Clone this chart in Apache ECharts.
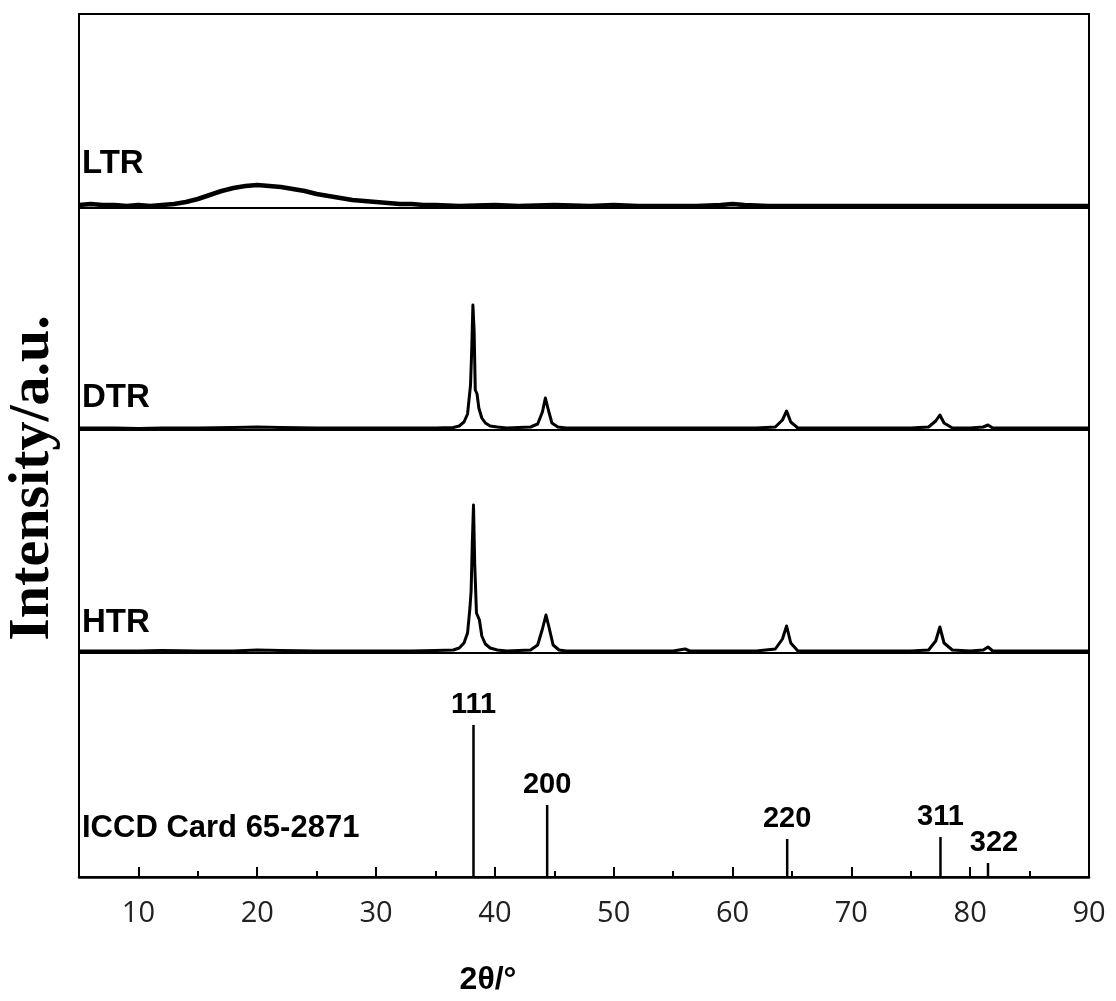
<!DOCTYPE html>
<html>
<head>
<meta charset="utf-8">
<script src="https://cdn.jsdelivr.net/npm/echarts@6/dist/echarts.min.js"></script>
<style>
html,body{margin:0;padding:0;background:#fff;}
#chart{width:1116px;height:1001px;}
</style>
</head>
<body>
<div id="chart"></div>
<script>
// ---- data (2θ in degrees, intensity in arbitrary units) ----
const xMin = 5, xMax = 90;
const majorTicks = [10, 20, 30, 40, 50, 60, 70, 80, 90];
const minorTicks = [15, 25, 35, 45, 55, 65, 75, 85];

const ltrX = [5, 6, 7, 8, 9, 10, 11, 12, 13, 14, 15, 16, 17, 18, 19, 20, 21, 22, 23, 24, 25, 26, 27, 28, 29, 30, 31, 32, 33, 34, 35, 37, 40, 42, 45, 48, 50, 52, 55, 57, 59, 60, 61, 63, 66, 70, 75, 80, 85, 90];
const ltrY = [3, 4, 3, 3, 2, 3, 2, 3, 4, 6, 9, 13, 17, 20, 22, 23, 22, 21, 19, 17, 14, 12, 10, 8, 7, 6, 5, 4, 4, 3, 3, 2, 3, 2, 3, 2, 3, 2, 2, 2, 3, 4, 3, 2, 2, 2, 2, 2, 2, 2];

const dtrX = [5, 8, 10, 12, 15, 18, 20, 22, 25, 28, 30, 33, 35, 36.5, 37.0, 37.4, 37.7, 37.95, 38.05, 38.15, 38.25, 38.35, 38.5, 38.65, 38.9, 39.2, 39.6, 40.2, 41, 42, 43, 43.6, 44.0, 44.25, 44.5, 44.8, 45.3, 46, 48, 50, 52, 55, 58, 60, 62, 63.6, 64.2, 64.55, 64.9, 65.5, 67, 70, 73, 75, 76.5, 77.1, 77.45, 77.8, 78.5, 80, 81.1, 81.5, 81.9, 83, 85, 88, 90];
const dtrY = [2, 2, 1.5, 2, 2, 2.5, 3, 2.5, 2, 2, 2, 2, 2, 2.5, 4, 8, 16, 45, 80, 125, 100, 40, 36, 22, 12, 7, 4, 3, 2, 2.5, 3, 6, 18, 32, 20, 7, 3, 2, 2, 2, 2, 2, 2, 2, 2, 3, 10, 19, 8, 2, 2, 2, 2, 2, 3, 9, 15, 7, 2, 2, 3, 5, 2, 2, 2, 2, 2];

const htrX = [5, 8, 10, 12, 15, 18, 20, 22, 25, 28, 30, 33, 35, 36.5, 37.0, 37.4, 37.7, 37.9, 38.0, 38.1, 38.2, 38.3, 38.45, 38.7, 38.9, 39.2, 39.6, 40.2, 41, 42, 43, 43.6, 44.0, 44.3, 44.55, 44.9, 45.4, 46, 48, 50, 52, 55, 56, 56.4, 58, 60, 62, 63.6, 64.2, 64.55, 64.9, 65.5, 67, 70, 73, 75, 76.5, 77.1, 77.45, 77.8, 78.5, 80, 81.1, 81.5, 81.9, 83, 85, 88, 90];
const htrY = [2, 2, 2, 2.5, 2, 2, 3, 2.5, 2, 2, 2, 2, 2.5, 3, 5, 10, 20, 45, 62, 110, 148, 90, 40, 33, 17, 9, 5, 3, 2, 2.5, 3, 8, 24, 38, 26, 8, 3, 2, 2, 2, 2, 2, 4, 2, 2, 2, 2, 4, 14, 27, 10, 2, 2, 2, 2, 2, 3, 12, 26, 10, 3, 2, 3, 6, 2, 2, 2, 2, 2];

const iccdPos = [38.2, 44.4, 64.6, 77.5, 81.5];
const iccdInt = [152, 72, 38, 40, 14];
const iccdLabels = ['111', '200', '220', '311', '322'];

const panelNames = ['LTR', 'DTR', 'HTR', 'ICCD Card 65-2871'];
const xTitle = '2θ/°';
const yTitle = 'Intensity/a.u.';

// ---- build ----
const zip = (xs, ys) => xs.map((x, i) => [x, ys[i]]);
const panels = [
  { top: 14, height: 194 },
  { top: 208, height: 222 },
  { top: 430, height: 223 },
  { top: 653, height: 224 }
];
const grid = panels.map(p => ({
  left: 79, right: 27, top: p.top, height: p.height,
  show: true, borderColor: '#000', borderWidth: 2, backgroundColor: 'transparent'
}));
const hiddenX = i => ({ type: 'value', gridIndex: i, min: xMin, max: xMax, show: false });
const xAxis = [
  hiddenX(0), hiddenX(1), hiddenX(2),
  {
    type: 'value', gridIndex: 3, min: xMin, max: xMax, position: 'bottom',
    axisLine: { show: true, lineStyle: { color: '#000', width: 2.5 } },
    axisTick: { show: true, inside: true, length: 10, lineStyle: { color: '#000', width: 2 }, customValues: majorTicks },
    axisLabel: { show: true, customValues: majorTicks, color: '#222', fontSize: 29, fontFamily: 'Open Sans', margin: 22 },
    splitLine: { show: false },
    name: xTitle, nameLocation: 'middle', nameGap: 87,
    nameTextStyle: { fontSize: 32, fontWeight: 'bold', fontFamily: 'Liberation Sans', color: '#000', padding: [0, 192, 0, 0] }
  },
  {
    type: 'value', gridIndex: 3, min: xMin, max: xMax, position: 'bottom',
    axisLine: { show: false },
    axisTick: { show: true, inside: true, length: 6, lineStyle: { color: '#000', width: 2 }, customValues: minorTicks },
    axisLabel: { show: false },
    splitLine: { show: false }
  }
];
const yMax = [194, 222, 223, 224];
const yAxis = yMax.map((m, i) => ({ type: 'value', gridIndex: i, min: 0, max: m, show: false }));

const lineSeries = (name, xs, ys, idx, w) => ({
  name, type: 'line', xAxisIndex: idx, yAxisIndex: idx,
  data: zip(xs, ys), showSymbol: false, symbol: 'none',
  lineStyle: { color: '#000', width: w, join: 'round' }, silent: true, animation: false
});

const option = {
  backgroundColor: '#fff',
  animation: false,
  grid, xAxis, yAxis,
  series: [
    lineSeries('LTR', ltrX, ltrY, 0, 4.5),
    lineSeries('DTR', dtrX, dtrY, 1, 3),
    lineSeries('HTR', htrX, htrY, 2, 3),
    {
      name: 'ICCD', type: 'bar', xAxisIndex: 3, yAxisIndex: 3,
      barWidth: 2.5, itemStyle: { color: '#000' },
      data: iccdPos.map((x, i) => ({
        value: [x, iccdInt[i]],
        label: i === 4 ? { offset: [6, 0] } : undefined
      })),
      label: {
        show: true, position: 'top', distance: 6,
        formatter: p => iccdLabels[p.dataIndex],
        fontSize: 29, fontWeight: 'bold', fontFamily: 'Liberation Sans', color: '#000'
      }
    }
  ],
  graphic: [
    { type: 'text', x: 82, y: 164, style: { text: panelNames[0], fontSize: 33, fontWeight: 'bold', fontFamily: 'Liberation Sans', fill: '#000', align: 'left', verticalAlign: 'middle' } },
    { type: 'text', x: 82, y: 398, style: { text: panelNames[1], fontSize: 33, fontWeight: 'bold', fontFamily: 'Liberation Sans', fill: '#000', align: 'left', verticalAlign: 'middle' } },
    { type: 'text', x: 82, y: 623, style: { text: panelNames[2], fontSize: 33, fontWeight: 'bold', fontFamily: 'Liberation Sans', fill: '#000', align: 'left', verticalAlign: 'middle' } },
    { type: 'text', x: 82, y: 828, style: { text: panelNames[3], fontSize: 31, fontWeight: 'bold', fontFamily: 'Liberation Sans', fill: '#000', align: 'left', verticalAlign: 'middle' } },
    { type: 'text', x: 33, y: 478, rotation: Math.PI / 2, style: { text: yTitle, fontSize: 58, fontWeight: 'bold', fontFamily: 'Liberation Serif', fill: '#000', align: 'center', verticalAlign: 'middle' } }
  ]
};
const chart = echarts.init(document.getElementById('chart'), null, { renderer: 'canvas' });
chart.setOption(option);
</script>
</body>
</html>
